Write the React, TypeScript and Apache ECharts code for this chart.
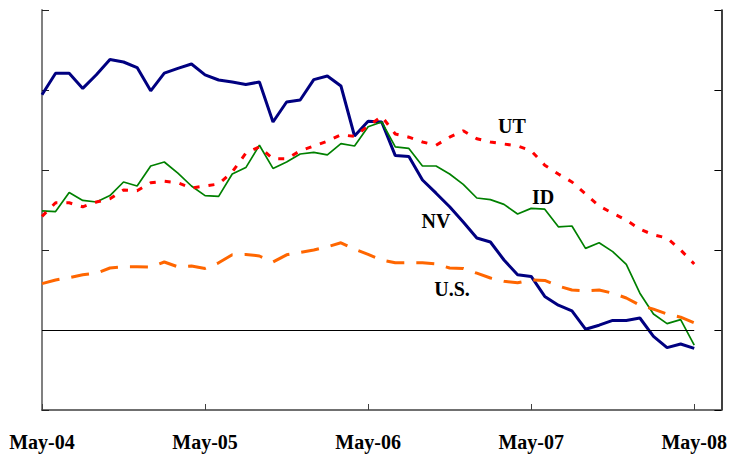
import React, { useEffect, useRef } from "react";
import * as echarts from "echarts";

const xLabels = ["May-04", "May-05", "May-06", "May-07", "May-08"];

const nv = [29.4, 32.1, 32.1, 30.2, 31.9, 33.8, 33.5, 32.8, 29.9, 32.1, 32.7, 33.25, 31.9, 31.25, 31.0, 30.7, 31.0, 26.0, 28.5, 28.75, 31.3, 31.75, 30.5, 24.25, 26.1, 26.0, 21.8, 21.7, 18.75, 17.1, 15.4, 13.5, 11.5, 11.0, 8.75, 6.9, 6.7, 4.2, 3.1, 2.4, 0.1, 0.6, 1.2, 1.2, 1.5, -0.8, -2.2, -1.75, -2.3];
const id = [14.9, 14.8, 17.2, 16.2, 16.0, 16.8, 18.5, 18.0, 20.5, 21.0, 19.6, 18.0, 16.8, 16.7, 19.5, 20.3, 23.1, 20.2, 21.0, 22.0, 22.2, 21.9, 23.3, 23.0, 25.4, 26.0, 22.9, 22.7, 20.5, 20.5, 19.5, 18.2, 16.5, 16.3, 15.7, 14.5, 15.2, 15.1, 12.9, 13.0, 10.2, 10.9, 9.8, 8.2, 4.6, 2.0, 0.8, 1.3, -1.9];
const ut = [14.2, 15.9, 15.9, 15.4, 16.0, 16.4, 17.5, 17.4, 18.4, 18.6, 18.4, 17.75, 18.0, 18.25, 19.75, 22.1, 22.9, 21.4, 21.4, 22.4, 23.0, 23.6, 24.4, 24.2, 25.5, 26.7, 24.5, 24.1, 23.5, 23.1, 24.1, 24.9, 23.9, 23.5, 23.25, 23.0, 22.4, 20.6, 19.5, 18.5, 17.0, 15.5, 14.6, 13.75, 12.6, 11.9, 11.5, 10.0, 8.25];
const us = [5.8, 6.25, 6.55, 6.9, 7.1, 7.75, 7.9, 7.9, 7.85, 8.5, 7.9, 8.0, 7.7, 8.4, 9.4, 9.45, 9.25, 8.5, 9.4, 9.7, 10.0, 10.4, 10.9, 10.1, 9.45, 8.75, 8.4, 8.4, 8.4, 8.25, 7.75, 7.7, 7.1, 6.5, 6.1, 5.9, 6.25, 6.2, 5.5, 5.0, 4.9, 5.0, 4.6, 4.0, 3.1, 2.6, 2.0, 1.6, 0.9];

const seriesNames = ["NV", "ID", "UT", "U.S."];

const toPairs = (arr: number[]) => arr.map((v, i) => [i, v]);

export default function App() {
  const ref = useRef<HTMLDivElement>(null);
  useEffect(() => {
    if (!ref.current) return;
    const chart = echarts.init(ref.current, null, { renderer: "svg" });
    const font = "'Liberation Serif', 'Times New Roman', serif";
    const lastIdx = nv.length - 1;
    chart.setOption({
      animation: false,
      grid: { left: 42, right: 7, top: 10, bottom: 50 },
      xAxis: {
        type: "value",
        min: 0,
        max: 50,
        interval: 12,
        axisLine: { show: true, onZero: false, lineStyle: { color: "#404040", width: 1.5 } },
        axisTick: { show: true, inside: true, length: 6, lineStyle: { color: "#404040", width: 1 } },
        splitLine: { show: false },
        axisLabel: {
          margin: 22,
          fontFamily: font,
          fontWeight: "bold",
          fontSize: 20,
          color: "#000",
          formatter: (v: number) => (v % 12 === 0 && xLabels[v / 12] ? xLabels[v / 12] : ""),
        },
      },
      yAxis: [
        {
          type: "value",
          min: -10,
          max: 40,
          interval: 10,
          position: "left",
          axisLine: { show: true, onZero: false, lineStyle: { color: "#808080", width: 2 } },
          axisTick: { show: true, inside: true, length: 7, lineStyle: { color: "#222", width: 1 } },
          axisLabel: { show: false },
          splitLine: { show: false },
        },
        {
          type: "value",
          min: -10,
          max: 40,
          interval: 10,
          position: "right",
          axisLine: { show: true, onZero: false, lineStyle: { color: "#000", width: 1.5 } },
          axisTick: { show: true, inside: true, length: 7, lineStyle: { color: "#000", width: 1 } },
          axisLabel: { show: false },
          splitLine: { show: false },
        },
      ],
      series: [
        {
          name: seriesNames[0],
          type: "line",
          data: toPairs(nv),
          symbol: "none",
          lineStyle: { color: "#000080", width: 3 },
          z: 2,
          markLine: {
            silent: true,
            symbol: "none",
            label: { show: false },
            lineStyle: { color: "#000", width: 1, type: "solid" },
            data: [[{ coord: [0, 0] }, { coord: [lastIdx, 0] }]],
          },
        },
        {
          name: seriesNames[1],
          type: "line",
          data: toPairs(id),
          symbol: "none",
          lineStyle: { color: "#008000", width: 1.7 },
          z: 3,
        },
        {
          name: seriesNames[3],
          type: "line",
          data: toPairs(us),
          symbol: "none",
          lineStyle: { color: "#FF6600", width: 3, type: [18, 12] },
          z: 4,
        },
        {
          name: seriesNames[2],
          type: "line",
          data: toPairs(ut),
          symbol: "none",
          lineStyle: { color: "#FF0000", width: 3, type: [6, 9] },
          z: 5,
        },
      ],
      graphic: [
        { type: "text", x: 512, y: 126, style: { text: "UT", font: `bold 20px ${font}`, fill: "#000", align: "center", verticalAlign: "middle" } },
        { type: "text", x: 543, y: 197, style: { text: "ID", font: `bold 20px ${font}`, fill: "#000", align: "center", verticalAlign: "middle" } },
        { type: "text", x: 436, y: 221, style: { text: "NV", font: `bold 20px ${font}`, fill: "#000", align: "center", verticalAlign: "middle" } },
        { type: "text", x: 452, y: 289, style: { text: "U.S.", font: `bold 20px ${font}`, fill: "#000", align: "center", verticalAlign: "middle" } },
      ],
    });
    return () => chart.dispose();
  }, []);
  return <div ref={ref} style={{ position: "absolute", left: 0, top: 0, width: 730, height: 460, background: "#fff" }} />;
}
